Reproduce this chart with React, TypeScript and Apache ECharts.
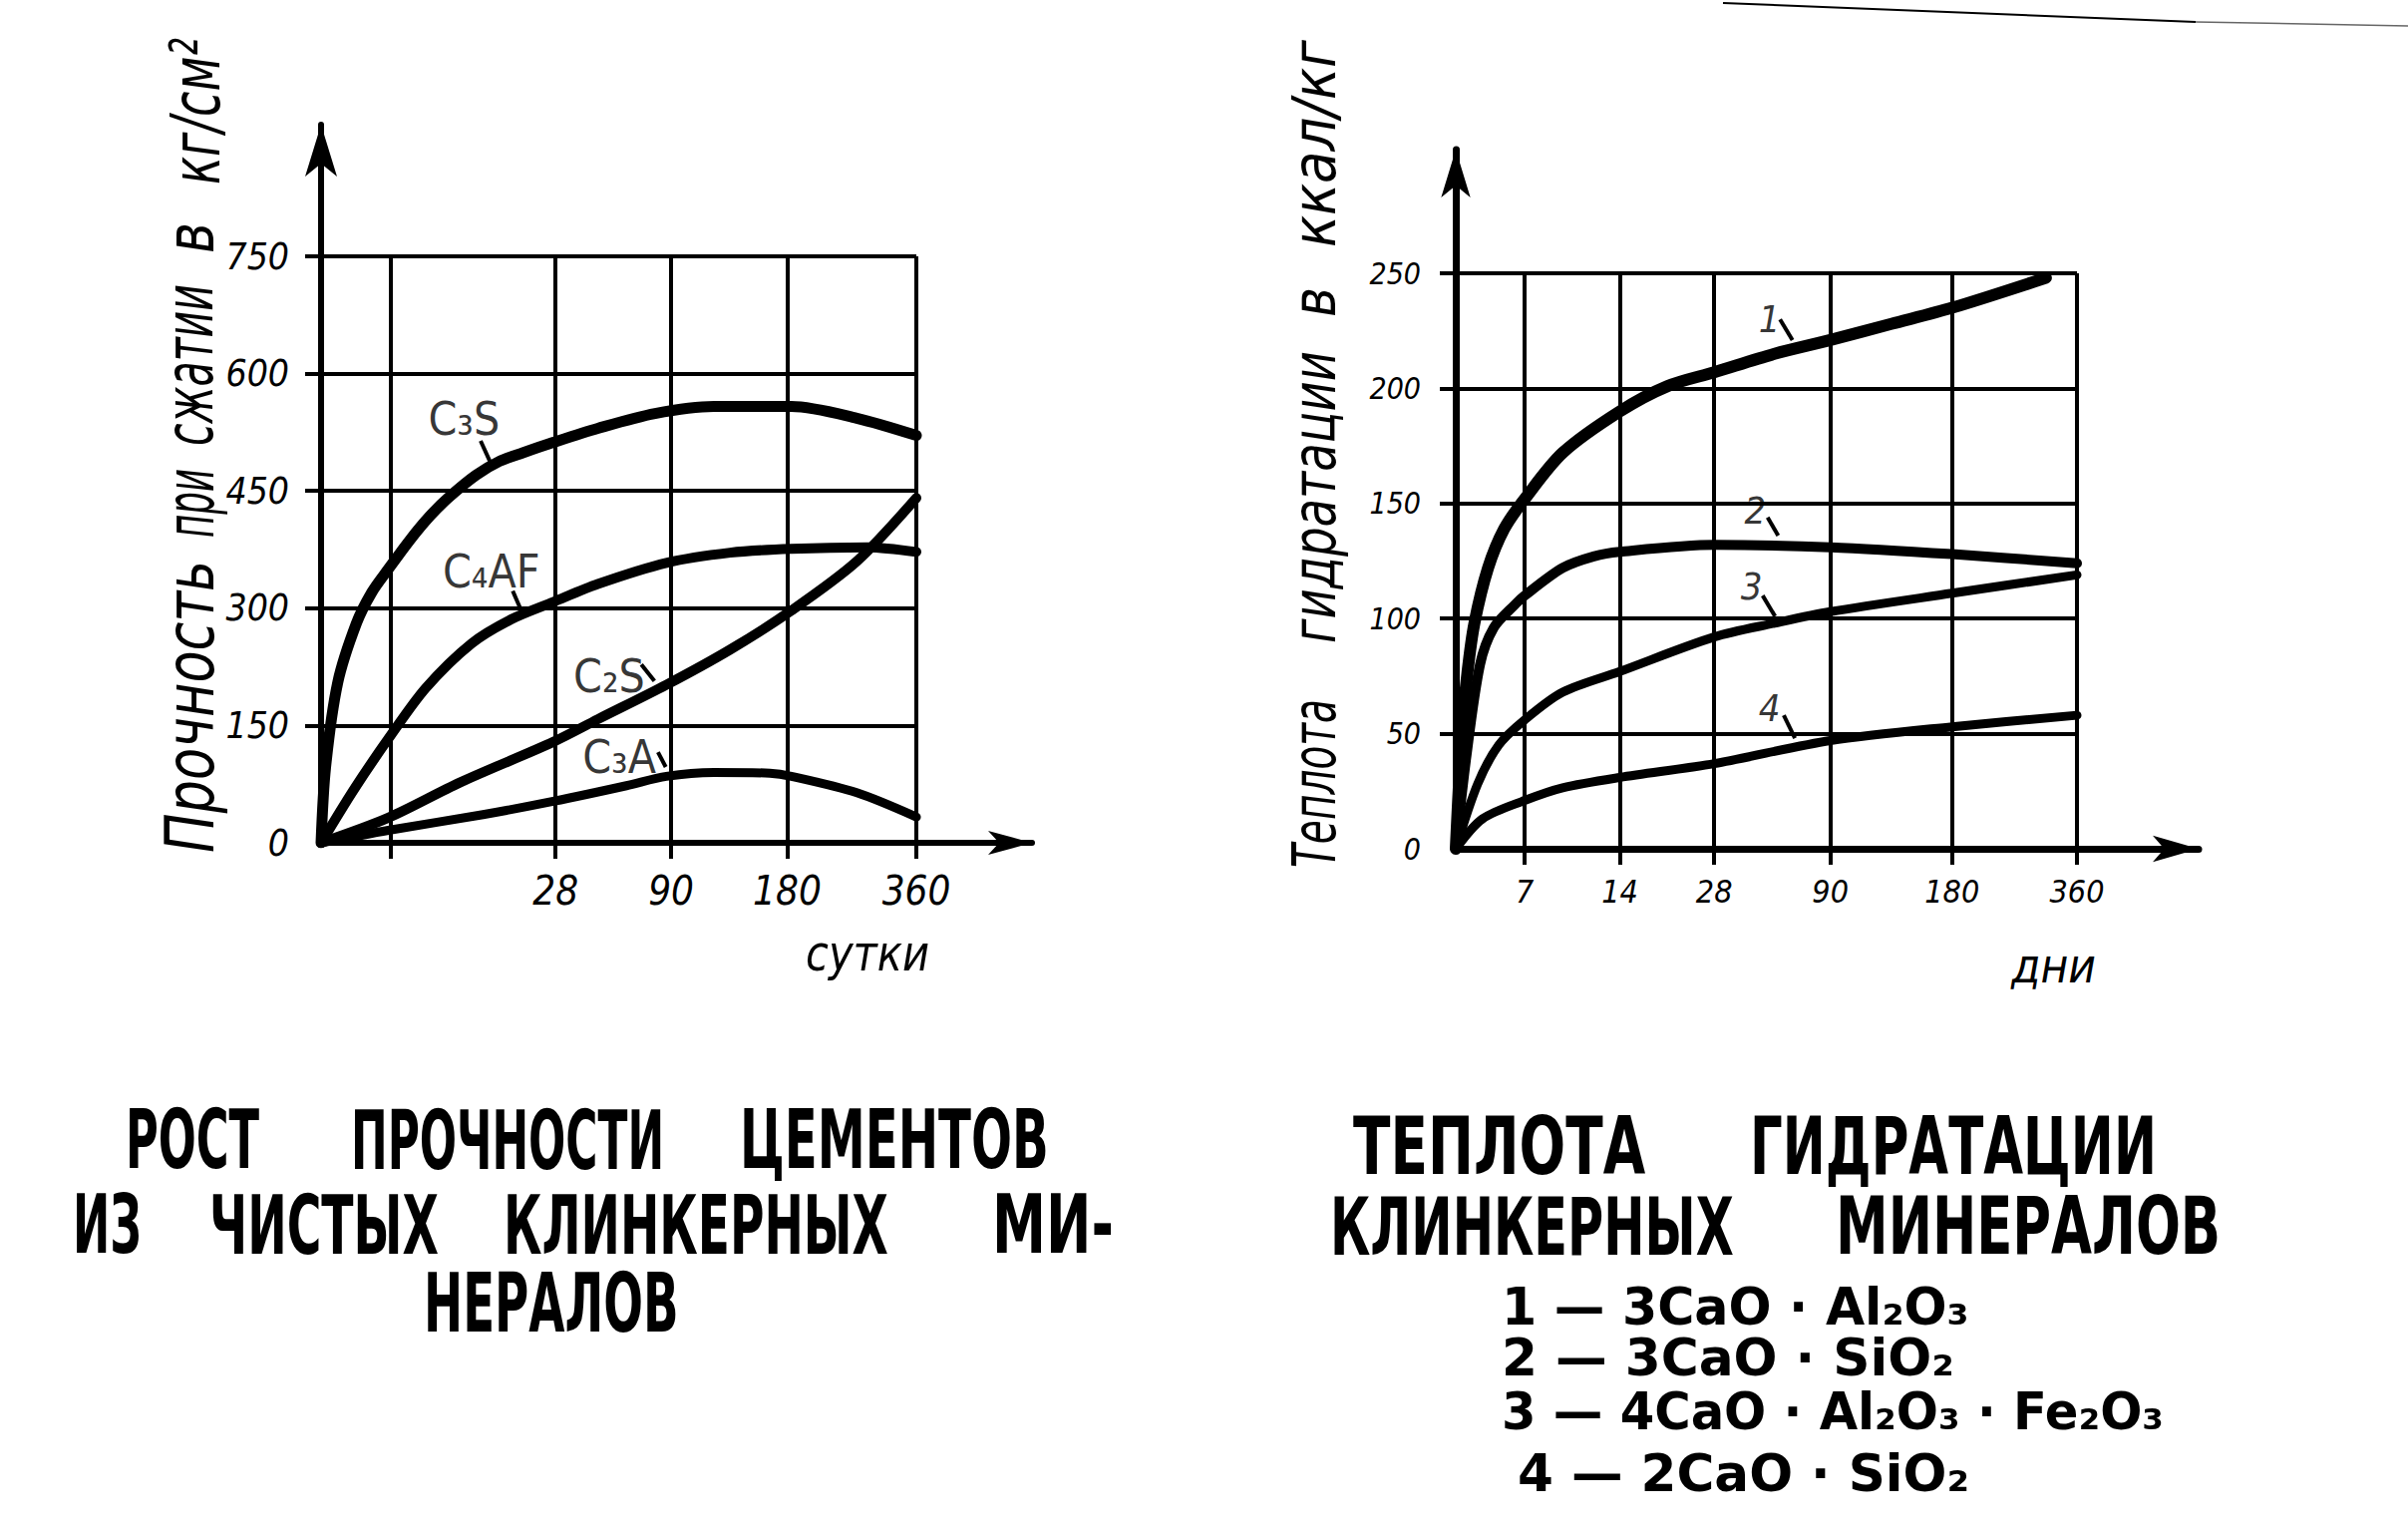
import React, { useEffect, useRef } from "react";
import * as echarts from "echarts";

// ---------------- Left chart: compressive strength (кг/см²) ----------------
const strengthTicks = [0, 150, 300, 450, 600, 750];
// positions of the day grid lines on the hand-drawn (non-uniform) day scale, 0..100
const strengthDayPos = [11.6, 39.4, 58.8, 78.3, 100];
const strengthDayLabels = ["", "28", "90", "180", "360"];

const c3sStrength = [
  [0, 0], [0.75, 96], [2.8, 205], [5.9, 280], [8.5, 320], [11.3, 350], [15, 388],
  [18.3, 418], [21.5, 442], [26, 470], [30, 488], [34, 499], [39, 512], [46.5, 530],
  [56.1, 549], [66, 558], [79, 558], [90, 543], [100, 521],
];
const c4afStrength = [
  [0, 0], [5.5, 68], [11.3, 133], [17.6, 198], [25.3, 255], [32, 286], [39, 308],
  [46.5, 331], [58, 358], [68.7, 371], [79, 376], [91.8, 378], [100, 372],
];
const c2sStrength = [
  [0, 0], [11.3, 32], [23.3, 77], [39, 129], [46.5, 158], [58, 202], [68.7, 247],
  [79, 297], [90, 360], [100, 441],
];
const c3aStrength = [
  [0, 0], [11.3, 16], [27.2, 36], [39, 53], [51.3, 73], [58, 85], [66, 90],
  [75.4, 89], [79, 85], [90, 64], [100, 33],
];
const strengthCurveNames = ["C₃S", "C₄AF", "C₂S", "C₃A"];
const strengthNamePos = [[24, 542], [28.6, 347], [48.4, 213], [50.1, 110]];
const strengthLeaders = [
  [[26.8, 514], [28.6, 484]],
  [[32.2, 322], [33.8, 294]],
  [[53.8, 228], [56.0, 207]],
  [[56.6, 116], [57.9, 97]],
];

// ---------------- Right chart: heat of hydration (ккал/кг) ----------------
const heatTicks = [0, 50, 100, 150, 200, 250];
const heatDayPos = [11.1, 26.4, 41.6, 60.3, 79.9, 100];
const heatDayLabels = ["7", "14", "28", "90", "180", "360"];

const heat1 = [
  [0, 0], [1, 51], [1.9, 77], [3, 98], [5.2, 122], [7.8, 139], [11.1, 152],
  [17.2, 172], [26.4, 190], [34.1, 201], [41.6, 207], [51.3, 215], [60.3, 221],
  [70.1, 228], [79.9, 235], [95, 248],
];
const heat2 = [
  [0, 0], [1.7, 40], [3.9, 80], [6.1, 96], [9.5, 106], [11.1, 110], [17.2, 122],
  [22.2, 127], [26.4, 129], [41.6, 132], [60.3, 131], [79.9, 128], [100, 124],
];
const heat3 = [
  [0, 0], [3.5, 28], [6.9, 45], [11.1, 56], [17.2, 68], [26.4, 77], [41.6, 92],
  [51.3, 98], [60.3, 103], [79.9, 111], [100, 119],
];
const heat4 = [
  [0, 0], [4.3, 13], [11.1, 21], [17.2, 26.5], [26.4, 31], [41.6, 37], [60.3, 47],
  [79.9, 53], [100, 58],
];
const heatCurveNames = ["1", "2", "3", "4"];
const heatNamePos = [[50.5, 230], [48.2, 147], [47.6, 114], [50.5, 61]];
const heatLeaders = [
  [[52.2, 230], [54.2, 221]],
  [[50.2, 144], [51.9, 136]],
  [[49.4, 110], [51.4, 101]],
  [[52.8, 58], [54.6, 48]],
];

// ---------------- Texts ----------------
const strengthYTitle = ["Прочность", "при", "сжатии", "в", "кг/см²"];
const heatYTitle = ["Теплота", "гидратации", "в", "ккал/кг"];
const strengthXTitle = "сутки";
const heatXTitle = "дни";
const leftTitleLines = [
  ["РОСТ", "ПРОЧНОСТИ", "ЦЕМЕНТОВ"],
  ["ИЗ", "ЧИСТЫХ", "КЛИНКЕРНЫХ", "МИ-"],
  ["НЕРАЛОВ"],
];
const rightTitleLines = [
  ["ТЕПЛОТА", "ГИДРАТАЦИИ"],
  ["КЛИНКЕРНЫХ", "МИНЕРАЛОВ"],
];
const formulaLines = [
  "1 — 3CaO · Al₂O₃",
  "2 — 3CaO · SiO₂",
  "3 — 4CaO · Al₂O₃ · Fe₂O₃",
  "4 — 2CaO · SiO₂",
];

// ---------------- Layout (pixels) ----------------
const LEFT = { x0: 322, y0: 845, topPx: 257, rightPx: 919, arrowTop: 125, arrowRight: 1035 };
const RIGHT = { x0: 1460, y0: 851, topPx: 274, rightPx: 2083, arrowTop: 150, arrowRight: 2205 };

const leftYTitleSpans = [[855, 562], [539, 470], [447, 285], [254, 223], [185, 38]];
const rightYTitleSpans = [[870, 701], [645, 352], [318, 288], [248, 40]];
const leftTitleSpans = [
  [[126, 260], [352, 666], [742, 1052]],
  [[73, 142], [210, 440], [505, 891], [995, 1117]],
  [[425, 681]],
];
const leftTitleY = [1143, 1228, 1306];
const rightTitleSpans = [
  [[1357, 1650], [1755, 2163]],
  [[1334, 1739], [1841, 2227]],
];
const rightTitleY = [1149, 1230];
const formulaSpans = [[1506, 1975], [1506, 1960], [1506, 2170], [1522, 1975]];
const formulaY = [1310, 1361, 1415, 1477];

const NARROW = "'Liberation Sans Narrow', 'DejaVu Sans Condensed', 'Liberation Sans', sans-serif";
const ROUND = "'DejaVu Sans Condensed', 'DejaVu Sans', sans-serif";

let measureCtx: CanvasRenderingContext2D | null = null;
function measure(text: string, size: number, family: string, weight: string, style: string) {
  if (!measureCtx) measureCtx = document.createElement("canvas").getContext("2d");
  measureCtx!.font = `${style} ${weight} ${size}px ${family}`;
  return measureCtx!.measureText(text).width || 1;
}

function hText(text: string, xs: number, xe: number, yc: number, size: number, family: string, weight = "normal", style = "normal") {
  const w = measure(text, size, family, weight, style);
  return {
    type: "text",
    x: xs,
    y: yc,
    scaleX: (xe - xs) / w,
    silent: true,
    style: {
      text, fontSize: size, fontFamily: family, fontWeight: weight, fontStyle: style, fill: "#000",
      align: "left", verticalAlign: "middle", textAlign: "left", textVerticalAlign: "middle",
    },
  };
}

function vText(text: string, xc: number, ys: number, ye: number, size: number, family: string, weight = "normal", style = "normal") {
  const w = measure(text, size, family, weight, style);
  return {
    type: "text",
    x: xc,
    y: ys,
    rotation: Math.PI / 2,
    scaleX: (ys - ye) / w,
    silent: true,
    style: {
      text, fontSize: size, fontFamily: family, fontWeight: weight, fontStyle: style, fill: "#000",
      align: "left", verticalAlign: "middle", textAlign: "left", textVerticalAlign: "middle",
    },
  };
}

function gridOf(g: typeof LEFT) {
  return {
    left: g.x0, top: g.arrowTop, width: g.arrowRight - g.x0, height: g.y0 - g.arrowTop,
    containLabel: false, outerBoundsMode: "none",
  };
}

function pickLabel(pos: number[], labels: string[]) {
  return (v: number) => {
    const i = pos.findIndex((p) => Math.abs(p - v) < 1e-6);
    return i >= 0 ? labels[i] : "";
  };
}

function axesFor(idx: number, g: typeof LEFT, pos: number[], labels: string[], ticks: number[], cfg: any) {
  const topVal = ticks[ticks.length - 1];
  const yMax = (topVal * (g.y0 - g.arrowTop)) / (g.y0 - g.topPx);
  const xMax = (100 * (g.arrowRight - g.x0)) / (g.rightPx - g.x0);
  const x = {
    gridIndex: idx, type: "value", min: 0, max: xMax,
    axisLine: {
      show: true, onZero: false, symbol: ["none", "arrow"], symbolSize: cfg.xArrow,
      lineStyle: { color: "#000", width: cfg.axisW },
    },
    axisTick: { show: true, customValues: pos, length: 16, lineStyle: { color: "#000", width: cfg.gridW } },
    axisLabel: {
      show: true, customValues: pos, formatter: pickLabel(pos, labels), margin: cfg.xMargin,
      fontSize: cfg.xFont, fontStyle: "italic", fontFamily: NARROW, color: "#000", verticalAlign: "top",
    },
    splitLine: { show: false },
  };
  const y = {
    gridIndex: idx, type: "value", min: 0, max: yMax,
    axisLine: {
      show: true, onZero: false, symbol: ["none", "arrow"], symbolSize: cfg.yArrow,
      lineStyle: { color: "#000", width: cfg.axisW },
    },
    axisTick: { show: true, customValues: ticks.slice(1), length: 16, lineStyle: { color: "#000", width: cfg.gridW } },
    axisLabel: {
      show: true, customValues: ticks, formatter: (v: number) => String(v), margin: cfg.yMargin,
      fontSize: cfg.yFont, fontStyle: "italic", fontFamily: NARROW, color: "#000",
    },
    splitLine: { show: false },
  };
  return { x, y };
}

function gridLines(pos: number[], ticks: number[]) {
  const top = ticks[ticks.length - 1];
  return [
    ...ticks.slice(1).map((v) => [{ coord: [0, v] }, { coord: [100, v] }]),
    ...pos.map((p) => [{ coord: [p, 0] }, { coord: [p, top] }]),
  ];
}

function curve(idx: number, data: number[][], width: number, extra: any = {}) {
  return {
    type: "line", xAxisIndex: idx, yAxisIndex: idx, data, smooth: 0.3,
    symbol: "none", showSymbol: false, silent: true,
    lineStyle: { color: "#000", width, cap: "round", join: "round" },
    emphasis: { disabled: true },
    ...extra,
  };
}

function nameSeries(idx: number, names: string[], pos: number[][], leaders: number[][][], font: any) {
  return {
    type: "scatter", xAxisIndex: idx, yAxisIndex: idx, silent: true,
    data: pos.map((p, i) => ({ name: names[i], value: p })),
    symbolSize: 1, itemStyle: { color: "rgba(0,0,0,0)" },
    label: { show: true, position: "inside", formatter: "{b}", color: "#000", ...font },
    emphasis: { disabled: true },
    markLine: {
      silent: true, symbol: ["none", "none"], label: { show: false },
      lineStyle: { color: "#000", width: 4, type: "solid" },
      data: leaders.map(([a, b]) => [{ coord: a }, { coord: b }]),
    },
  };
}

function buildOption() {
  const la = axesFor(0, LEFT, strengthDayPos, strengthDayLabels, strengthTicks, {
    axisW: 6, gridW: 4, xArrow: [18, 44], yArrow: [24, 52], xMargin: 28, yMargin: 32, xFont: 40, yFont: 37,
  });
  const ra = axesFor(1, RIGHT, heatDayPos, heatDayLabels, heatTicks, {
    axisW: 7, gridW: 4, xArrow: [20, 46], yArrow: [22, 48], xMargin: 27, yMargin: 35, xFont: 32, yFont: 30,
  });
  const gridMark = (pos: number[], ticks: number[]) => ({
    silent: true, symbol: ["none", "none"], label: { show: false },
    lineStyle: { color: "#000", width: 4, type: "solid" },
    emphasis: { disabled: true },
    data: gridLines(pos, ticks),
  });

  const graphics: any[] = [];
  strengthYTitle.forEach((w, i) =>
    graphics.push(vText(w, i === 4 ? 196 : 190, leftYTitleSpans[i][0], leftYTitleSpans[i][1], 68, NARROW, "normal", "italic"))
  );
  heatYTitle.forEach((w, i) =>
    graphics.push(vText(w, 1318, rightYTitleSpans[i][0], rightYTitleSpans[i][1], 60, NARROW, "normal", "italic"))
  );
  graphics.push(hText(strengthXTitle, 808, 932, 955, 50, NARROW, "normal", "italic"));
  graphics.push(hText(heatXTitle, 2017, 2102, 968, 48, NARROW, "normal", "italic"));
  leftTitleLines.forEach((line, li) =>
    line.forEach((w, wi) =>
      graphics.push(hText(w, leftTitleSpans[li][wi][0], leftTitleSpans[li][wi][1], leftTitleY[li], 82, NARROW, "bold"))
    )
  );
  rightTitleLines.forEach((line, li) =>
    line.forEach((w, wi) =>
      graphics.push(hText(w, rightTitleSpans[li][wi][0], rightTitleSpans[li][wi][1], rightTitleY[li], 80, NARROW, "bold"))
    )
  );
  formulaLines.forEach((t, i) =>
    graphics.push(hText(t, formulaSpans[i][0], formulaSpans[i][1], formulaY[i], 52, ROUND, "bold"))
  );
  graphics.push({ type: "line", silent: true, shape: { x1: 1728, y1: 3, x2: 2202, y2: 22 }, style: { stroke: "#000", lineWidth: 2 } });
  graphics.push({ type: "line", silent: true, shape: { x1: 2202, y1: 22, x2: 2415, y2: 26 }, style: { stroke: "#666", lineWidth: 1.5 } });

  return {
    animation: false,
    backgroundColor: "#fff",
    grid: [gridOf(LEFT), gridOf(RIGHT)],
    xAxis: [la.x, ra.x],
    yAxis: [la.y, ra.y],
    series: [
      curve(0, c3sStrength, 11, { markLine: gridMark(strengthDayPos, strengthTicks) }),
      curve(0, c4afStrength, 10),
      curve(0, c2sStrength, 10),
      curve(0, c3aStrength, 9),
      nameSeries(0, strengthCurveNames, strengthNamePos, strengthLeaders, { fontSize: 46, fontFamily: NARROW }),
      curve(1, heat1, 12, { markLine: gridMark(heatDayPos, heatTicks) }),
      curve(1, heat2, 10),
      curve(1, heat3, 9),
      curve(1, heat4, 9),
      nameSeries(1, heatCurveNames, heatNamePos, heatLeaders, { fontSize: 38, fontFamily: NARROW, fontStyle: "italic" }),
    ],
    graphic: { elements: graphics },
  };
}

export default function App() {
  const ref = useRef<HTMLDivElement>(null);
  useEffect(() => {
    const chart = echarts.init(ref.current!, null, { renderer: "svg" });
    chart.setOption(buildOption() as any);
    return () => chart.dispose();
  }, []);
  return (
    <div
      ref={ref}
      style={{ position: "fixed", left: 0, top: 0, width: 2415, height: 1539, background: "#fff" }}
    />
  );
}
